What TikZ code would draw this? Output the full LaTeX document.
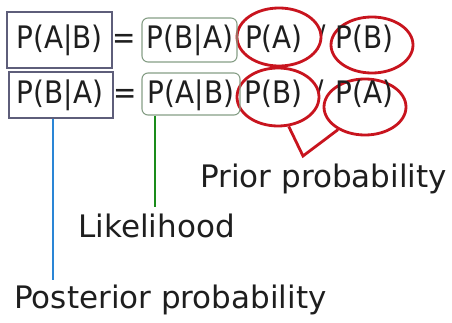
\documentclass[tikz,border=0pt]{standalone}
\usepackage{fontspec}
\setmainfont{DejaVu Sans}
\newfontfamily\fmlfont[FakeStretch=0.9]{DejaVu Sans}
\usetikzlibrary{shapes.geometric}
\definecolor{ink}{HTML}{1E1E1E}
\definecolor{boxgray}{HTML}{5E5E7A}
\definecolor{boxgreen}{HTML}{869E86}
\definecolor{ringred}{HTML}{C8141E}
\definecolor{lineblue}{HTML}{2A86D6}
\definecolor{linegreen}{HTML}{1A8C1A}
\begin{document}
\begin{tikzpicture}[x=1pt,y=-1pt,
  formula/.style={anchor=base, inner sep=0pt, text=ink, font=\fmlfont\fontsize{31}{36}\selectfont},
  caption/.style={anchor=base, inner sep=0pt, text=ink, font=\fontsize{31}{36}\selectfont},
  sqbox/.style={draw=boxgray, line width=1.4pt, inner sep=0pt},
  rbox/.style={draw=boxgreen, line width=1.1pt, rounded corners=6pt, inner sep=0pt},
  ring/.style={draw=ringred, line width=2.8pt},
  oval/.style={ellipse, ring, fill=white, inner sep=0pt}]
\useasboundingbox (0,0) rectangle (452,323);
% slashes (partly hidden by the ovals)
\node[formula] (s1) at (321,48) {/};
\node[formula] (s2) at (319,103) {/};
% ovals
\node[oval, minimum width=84pt, minimum height=58pt] (e11) at (279,37) {};
\node[oval, minimum width=82pt, minimum height=56pt] (e12) at (372,45) {};
\node[oval, minimum width=82pt, minimum height=58pt] (e21) at (278,97) {};
\node[oval, minimum width=82pt, minimum height=56pt] (e22) at (365,107) {};
% boxes
\node[sqbox, minimum width=105pt, minimum height=56pt] (box1) at (59.5,40) {};
\node[sqbox, minimum width=104pt, minimum height=46pt] (box2) at (61,95) {};
\node[rbox, minimum width=95pt, minimum height=44pt] (gbox1) at (189.5,40) {};
\node[rbox, minimum width=98pt, minimum height=42pt] (gbox2) at (191,94) {};
% row 1 texts
\node[formula] (t11) at (59.5,49) {P(A|B)};
\node[formula] (eq1) at (124,49) {=};
\node[formula] (t12) at (190,49) {P(B|A)};
\node[formula] (t13) at (274,49) {P(A)};
\node[formula] (t14) at (364.5,49) {P(B)};
% row 2 texts
\node[formula] (t21) at (60,104) {P(B|A)};
\node[formula] (eq2) at (125,104) {=};
\node[formula] (t22) at (191,104) {P(A|B)};
\node[formula] (t23) at (273.5,104) {P(B)};
\node[formula] (t24) at (364.5,104) {P(A)};
% captions
\node[caption] (prior) at (323.5,188) {Prior probability};
\node[caption] (lik) at (156.5,237) {Likelihood};
\node[caption] (post) at (170.5,308) {Posterior probability};
% connectors
\coordinate (vtx) at (303,156);
\draw[ring, line join=miter] (e21.290) -- (vtx) -- (e22.220);
\coordinate (bend) at (53,280);
\draw[lineblue, line width=2pt] (box2.south -| bend) -- (bend);
\coordinate (gend) at (155,207);
\draw[linegreen, line width=2pt] (gbox2.south -| gend) -- (gend);
\end{tikzpicture}
\end{document}
